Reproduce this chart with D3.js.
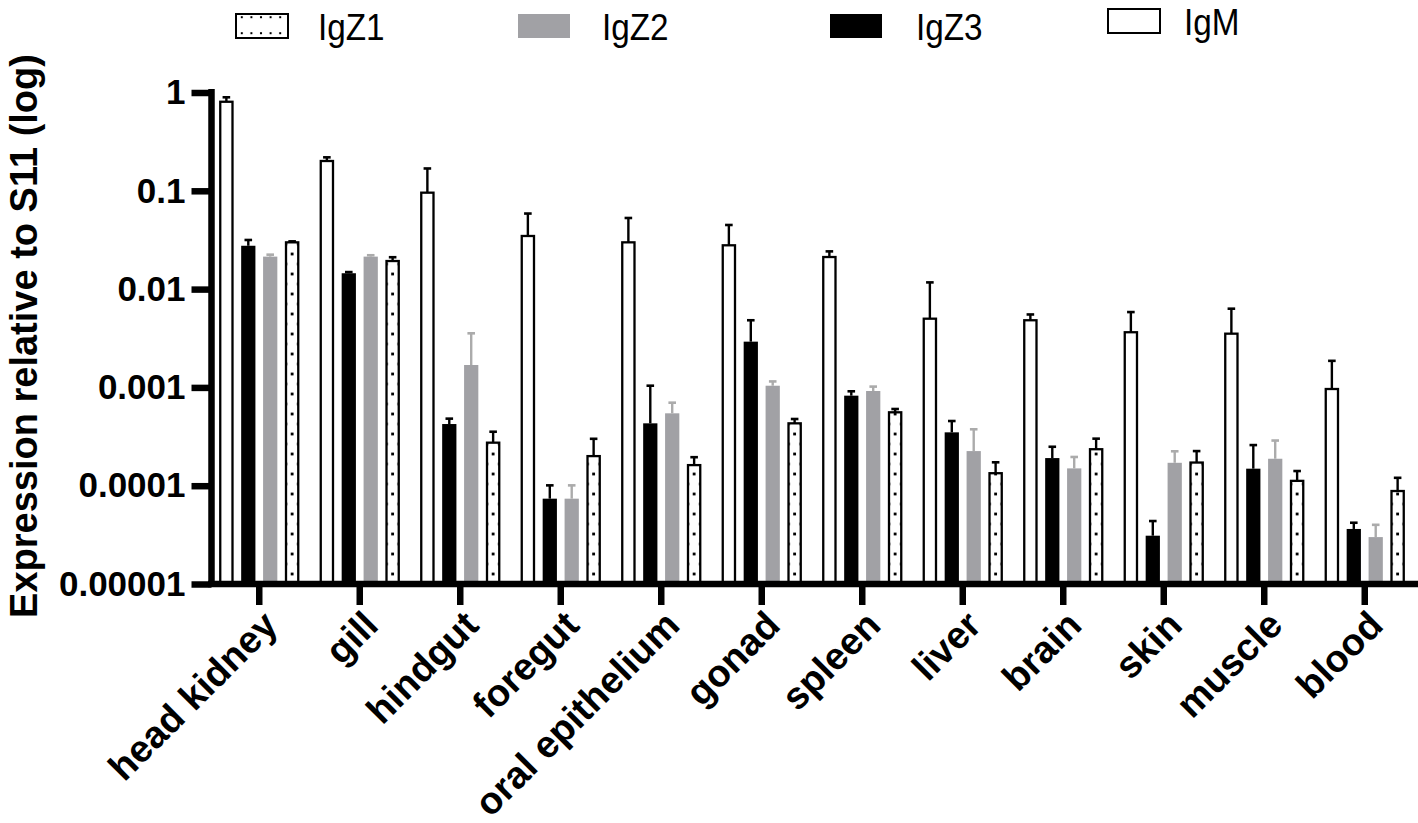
<!DOCTYPE html>
<html>
<head>
<meta charset="utf-8">
<script src="https://cdn.jsdelivr.net/npm/d3@7"></script>
<style>
  html, body { margin: 0; padding: 0; background: #fff; }
  svg { display: block; }
</style>
</head>
<body>
<svg id="chart" width="1418" height="823"></svg>
<script>
const tissues = ["head kidney", "gill", "hindgut", "foregut", "oral epithelium", "gonad",
  "spleen", "liver", "brain", "skin", "muscle", "blood"];
const seriesOrder = ["IgM", "IgZ3", "IgZ2", "IgZ1"];
const legendOrder = ["IgZ1", "IgZ2", "IgZ3", "IgM"];

const igM   = [0.805, 0.201, 0.0957, 0.0347, 0.0299, 0.0279, 0.0212, 0.0050, 0.00482, 0.00364, 0.00352, 0.000963];
const igMSd = [0.089, 0.018, 0.073, 0.024, 0.023, 0.017, 0.003, 0.0067, 0.0007, 0.0022, 0.0028, 0.0009];
const igZ3   = [0.0276, 0.0145, 0.000424, 0.0000738, 0.000431, 0.00292, 0.000824, 0.000349, 0.000191, 0.000031, 0.000149, 0.0000363];
const igZ3Sd = [0.004, 0.0004, 0.000057, 0.000027, 0.00061, 0.0019, 0.000089, 0.000106, 0.000058, 0.0000127, 0.00011, 0.0000057];
const igZ2   = [0.0214, 0.0214, 0.00169, 0.0000738, 0.000545, 0.00104, 0.000919, 0.000225, 0.00015, 0.000171, 0.000188, 0.00003];
const igZ2Sd = [0.001, 0.0007, 0.00186, 0.000027, 0.000154, 0.00011, 0.0001, 0.00015, 0.000046, 0.000053, 0.0001, 0.00001];
const igZ1   = [0.0299, 0.0193, 0.000274, 0.0002, 0.000162, 0.000431, 0.000558, 0.000134, 0.000235, 0.000172, 0.000112, 0.0000883];
const igZ1Sd = [0.0007, 0.0018, 0.00008, 0.0001, 0.000033, 0.000046, 0.000045, 0.000039, 0.000066, 0.000053, 0.000029, 0.000032];

const yTicks = [1e-5, 1e-4, 1e-3, 1e-2, 1e-1, 1];
const yTickLabels = ["0.00001", "0.0001", "0.001", "0.01", "0.1", "1"];
const yTitle = "Expression relative to S11 (log)";

const values = { IgM: igM, IgZ3: igZ3, IgZ2: igZ2, IgZ1: igZ1 };
const sds = { IgM: igMSd, IgZ3: igZ3Sd, IgZ2: igZ2Sd, IgZ1: igZ1Sd };

const GRAY = "#a1a1a5";
const GRAY_ERR = "#ababab";
const FONT = "'Liberation Sans', Arial, Helvetica, sans-serif";

const svg = d3.select("#chart");
const baseY = 584;

const x = d3.scaleBand().domain(tissues).range([209, 1415]).paddingInner(0).paddingOuter(0);
const xs = d3.scaleBand().domain(seriesOrder).range([-40, 40]).paddingInner(0.35).paddingOuter(0);
const y = d3.scaleLog().domain([1e-5, 1]).range([baseY, 92.5]);

const bw = xs.bandwidth();
const defs = svg.append("defs");

const rows = [];
tissues.forEach((t, i) => {
  seriesOrder.forEach(s => {
    rows.push({ tissue: t, i, series: s, v: values[s][i], sd: sds[s][i] });
  });
});

// dotted patterns for IgZ1 bars
rows.filter(d => d.series === "IgZ1").forEach(d => {
  const bx = x(d.tissue) + x.bandwidth() / 2 + xs(d.series);
  const p = defs.append("pattern")
    .attr("id", "dots" + d.i)
    .attr("patternUnits", "userSpaceOnUse")
    .attr("x", bx).attr("y", baseY)
    .attr("width", bw).attr("height", 20);
  p.append("rect").attr("width", bw).attr("height", 20).attr("fill", "#fff");
  p.append("rect").attr("x", bw / 2 - 1.4).attr("y", 8.6).attr("width", 2.8).attr("height", 2.8).attr("fill", "#000");
  [[0, 0], [bw, 0], [0, 20], [bw, 20]].forEach(([cx, cy]) => {
    p.append("rect").attr("x", cx - 2.2).attr("y", cy - 1.4).attr("width", 4.4).attr("height", 2.8).attr("fill", "#000");
  });
});
// legend pattern
(function () {
  const p = defs.append("pattern")
    .attr("id", "dotsLegend")
    .attr("patternUnits", "userSpaceOnUse")
    .attr("x", 237).attr("y", 10)
    .attr("width", 9.6).attr("height", 16);
  p.append("rect").attr("width", 9.6).attr("height", 16).attr("fill", "#fff");
  p.append("rect").attr("x", 3.8).attr("y", 6.2).attr("width", 2).attr("height", 2).attr("fill", "#000");
})();

function fillFor(d) {
  if (d.series === "IgM") return "#fff";
  if (d.series === "IgZ3") return "#000";
  if (d.series === "IgZ2") return GRAY;
  return "url(#dots" + d.i + ")";
}
const outlined = s => s === "IgM" || s === "IgZ1";

const bars = svg.append("g");
bars.selectAll("rect").data(rows).join("rect")
  .attr("x", d => x(d.tissue) + x.bandwidth() / 2 + xs(d.series) + (outlined(d.series) ? 1 : 0))
  .attr("y", d => y(d.v))
  .attr("width", d => outlined(d.series) ? bw - 2 : bw)
  .attr("height", d => baseY - y(d.v))
  .attr("fill", fillFor)
  .attr("stroke", d => outlined(d.series) ? "#000" : "none")
  .attr("stroke-width", 2.3);

// error bars
const err = svg.append("g");
rows.forEach(d => {
  const cx = x(d.tissue) + x.bandwidth() / 2 + xs(d.series) + bw / 2;
  const col = d.series === "IgZ2" ? GRAY_ERR : "#000";
  const y0 = y(d.v), y1 = y(d.v + d.sd);
  err.append("line").attr("x1", cx).attr("x2", cx).attr("y1", y0).attr("y2", y1)
    .attr("stroke", col).attr("stroke-width", 2.4);
  err.append("line").attr("x1", cx - 3.8).attr("x2", cx + 3.8).attr("y1", y1).attr("y2", y1)
    .attr("stroke", col).attr("stroke-width", 2.6);
});

// axes
const yAxis = d3.axisLeft(y).tickValues(yTicks)
  .tickFormat((d, i) => yTickLabels[i]).tickSize(20).tickSizeOuter(0).tickPadding(6);
const gy = svg.append("g").attr("transform", "translate(211.5,0)").call(yAxis);
gy.select(".domain").remove();
gy.selectAll(".tick line").attr("stroke", "#000").attr("stroke-width", 6.5);
gy.selectAll(".tick text").attr("font-family", FONT).attr("font-weight", "bold")
  .attr("font-size", 35).attr("fill", "#000");
svg.append("line").attr("x1", 211.5).attr("x2", 211.5).attr("y1", 89).attr("y2", baseY + 3)
  .attr("stroke", "#000").attr("stroke-width", 6.5);

const xAxis = d3.axisBottom(x).tickSize(21).tickSizeOuter(0).tickFormat(() => "");
const gx = svg.append("g").attr("transform", `translate(0,${baseY})`).call(xAxis);
gx.select(".domain").remove();
gx.selectAll(".tick line").attr("stroke", "#000").attr("stroke-width", 6.5);
svg.append("line").attr("x1", 208).attr("x2", 1418).attr("y1", baseY).attr("y2", baseY)
  .attr("stroke", "#000").attr("stroke-width", 6.5);

// x labels
svg.append("g").selectAll("text").data(tissues).join("text")
  .attr("transform", d => `translate(${x(d) + x.bandwidth() / 2 + 11},${618}) rotate(-45)`)
  .attr("text-anchor", "end")
  .attr("dy", "0.35em")
  .attr("font-family", FONT).attr("font-weight", "bold").attr("font-size", 38)
  .text(d => d);

// y title
svg.append("text")
  .attr("transform", "translate(37,336) rotate(-90)")
  .attr("text-anchor", "middle")
  .attr("font-family", FONT).attr("font-weight", "bold").attr("font-size", 38)
  .text(yTitle);

// legend
const legendPos = {
  IgZ1: { bx: 236, by: 14, tx: 318, ty: 40 },
  IgZ2: { bx: 518, by: 14, tx: 602, ty: 40 },
  IgZ3: { bx: 830, by: 14, tx: 916, ty: 40 },
  IgM:  { bx: 1108, by: 9, tx: 1184, ty: 35 }
};
const lg = svg.append("g");
legendOrder.forEach(s => {
  const p = legendPos[s];
  let fill = "#fff", stroke = "#000";
  if (s === "IgZ1") fill = "url(#dotsLegend)";
  if (s === "IgZ2") { fill = GRAY; stroke = "none"; }
  if (s === "IgZ3") { fill = "#000"; stroke = "none"; }
  lg.append("rect").attr("x", p.bx).attr("y", p.by).attr("width", 52).attr("height", 24)
    .attr("fill", fill).attr("stroke", stroke).attr("stroke-width", 2);
  lg.append("text").attr("x", p.tx).attr("y", p.ty)
    .attr("font-family", FONT).attr("font-size", 37)
    .attr("transform", `translate(${p.tx},0) scale(0.9,1) translate(${-p.tx},0)`)
    .text(s);
});
</script>
</body>
</html>
